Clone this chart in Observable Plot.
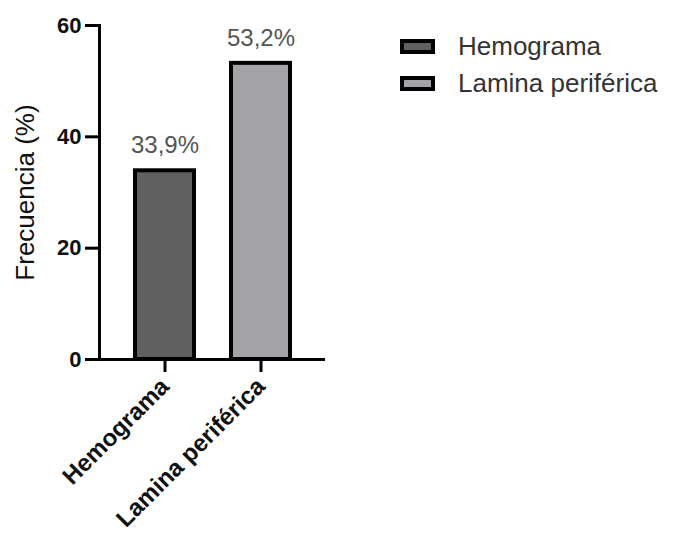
<!DOCTYPE html>
<html><head><meta charset="utf-8">
<script src="https://cdn.jsdelivr.net/npm/d3@7"></script>
<script src="https://cdn.jsdelivr.net/npm/@observablehq/plot@0.6"></script>
<style>
body{margin:0;background:#fff;font-family:"Liberation Sans",Arial,sans-serif;}
#wrap{position:relative;width:673px;height:540px;}
#legend{position:absolute;left:400px;top:28px;font-size:26px;color:#333;}
.item{display:flex;align-items:center;height:37px;}
.sw{width:27px;height:7px;border:4px solid #000;margin-right:23px;}
</style></head>
<body><div id="wrap"><div id="legend"></div></div>
<script>
const categories = ["Hemograma", "Lamina periférica"];
const values = [33.9, 53.2];
const valueLabels = ["33,9%", "53,2%"];
const colors = ["#606060", "#a3a3a7"];
const yTicks = [0, 20, 40, 60];

const data = categories.map((c, i) => ({cat: c, v: values[i], lab: valueLabels[i], col: colors[i]}));

const plot = Plot.plot({
  width: 673, height: 540,
  marginLeft: 99, marginRight: 348, marginTop: 25, marginBottom: 181,
  style: {fontFamily: "Liberation Sans, Arial, sans-serif", background: "#fff"},
  x: {domain: categories, paddingInner: 0.39, paddingOuter: 0.36, label: null},
  y: {domain: [0, 60], label: null},
  marks: [
    Plot.barY(data, {x: "cat", y: "v", fill: "col", stroke: "#000", strokeWidth: 4}),
    Plot.text(data, {x: "cat", y: "v", text: "lab", dy: -25, fill: "#555", fontSize: 24}),
    Plot.axisY({ticks: yTicks, tickSize: 14, tickPadding: 4, strokeWidth: 3, fontSize: 22, fontWeight: "bold", fill: "#111", label: null}),
    Plot.axisX({tickSize: 13, tickRotate: -45, tickPadding: 10, strokeWidth: 3, fontSize: 24, fontWeight: "bold", fill: "#111", label: null}),
    Plot.frame({anchor: "left", stroke: "#000", strokeWidth: 3}),
    Plot.ruleY([0], {stroke: "#000", strokeWidth: 3}),
    Plot.text(["Frecuencia (%)"], {frameAnchor: "left", textAnchor: "middle", dx: -74, dy: 0, rotate: -90, fontSize: 26, letterSpacing: 1, fill: "#111"})
  ]
});
document.getElementById("wrap").prepend(plot);

const leg = document.getElementById("legend");
categories.forEach((c, i) => {
  const d = document.createElement("div");
  d.className = "item";
  d.innerHTML = `<div class="sw" style="background:${colors[i]}"></div><span>${c}</span>`;
  leg.appendChild(d);
});
</script></body></html>
